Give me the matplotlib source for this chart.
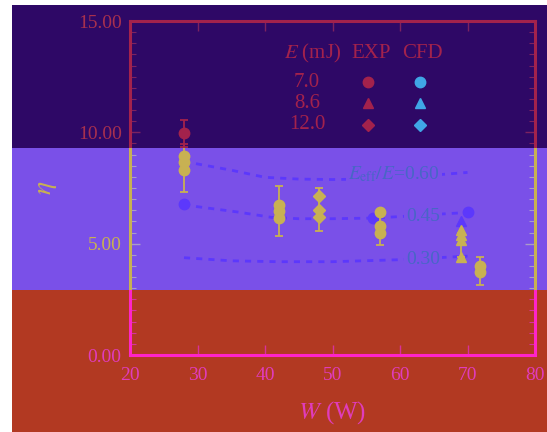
import matplotlib.pyplot as plt
from matplotlib.patches import Rectangle
from matplotlib.ticker import MultipleLocator, FormatStrFormatter

plt.rcParams['font.family'] = ['Liberation Serif', 'DejaVu Serif']
plt.rcParams['mathtext.fontset'] = 'stix'

# ---- values ----
E_labels = ['7.0', '8.6', '12.0']
E_markers = ['o', '^', 'D']

# EXP, E = 7.0 mJ (circles)
exp1_W = [28, 28, 28, 28, 42, 42, 42, 57, 57, 57, 71.8, 71.8]
exp1_eta = [9.95, 8.92, 8.65, 8.29, 6.75, 6.45, 6.15, 6.40, 5.80, 5.50, 4.00, 3.72]
exp1_lo = [0.60, 0, 0, 0.99, 0, 1.09, 0, 0, 0, 0.55, 0, 0.57]
exp1_hi = [0.60, 0, 0, 1.20, 0, 1.12, 0, 0, 0, 0.90, 0, 0.68]
# EXP, E = 8.6 mJ (triangles)
exp2_W = [69, 69, 69, 69]
exp2_eta = [5.63, 5.40, 5.18, 4.40]
exp2_lo = [0, 0, 0.78, 0]
exp2_hi = [0, 0, 0.30, 0]
# EXP, E = 12.0 mJ (diamonds)
exp3_W = [48, 48, 48]
exp3_eta = [7.16, 6.53, 6.20]
exp3_lo = [0, 0.94, 0]
exp3_hi = [0, 0.99, 0]

# CFD points
cfd1_W = [28, 56, 70]
cfd1_eta = [6.76, 6.15, 6.40]
cfd2_W = [69]
cfd2_eta = [6.00]

# CFD curves for E_eff/E
ratio_labels = [r'$E_{\rm eff}/E$=0.60', '0.45', '0.30']
c60_W = [28, 30, 35, 40, 45, 50, 55, 60, 65, 70]
c60_eta = [8.70, 8.58, 8.30, 7.98, 7.90, 7.88, 7.90, 7.98, 8.08, 8.20]
c45_W = [28, 30, 36, 41, 45, 50, 56, 62, 66, 70]
c45_eta = [6.76, 6.66, 6.42, 6.18, 6.12, 6.12, 6.15, 6.25, 6.33, 6.40]
c30_W = [28, 35, 42, 50, 60, 65, 70]
c30_eta = [4.37, 4.23, 4.19, 4.19, 4.28, 4.36, 4.44]
label_W = [65.9, 65.9, 65.9]
label_eta = [7.88, 6.00, 4.07]

# colour bands of the picture, pixel rows from the top (top, middle, bottom)
bands = [
    dict(p0=5, p1=148, bg='#2e0866', fg='#a3224c', lab='#a8304e', tick='#7d2260', cfd='#40a6e6', ann='#40a6e6'),
    dict(p0=148, p1=290, bg='#7a50e8', fg='#c8b152', lab='#c8b152', tick='#a99bc9', cfd='#5c38fc', ann='#4866c6'),
    dict(p0=290, p1=432, bg='#b23922', fg='#ff24c8', lab='#e03cbc', tick='#d8309c', cfd='#5c38fc', ann='#4866c6'),
]

W_PX, H_PX = 547, 432
fig = plt.figure(figsize=(W_PX / 100, H_PX / 100), dpi=100, facecolor='white')


def draw(ax, pal):
    ax.patch.set_visible(False)
    for W, eta in [(c60_W, c60_eta), (c45_W, c45_eta), (c30_W, c30_eta)]:
        ax.plot(W, eta, ls=(0, (2.2, 2.2)), lw=2.0, color=pal['cfd'], zorder=2)
    ax.plot(cfd1_W, cfd1_eta, 'o', ms=7.5, color=pal['cfd'], zorder=3)
    ax.plot(cfd2_W, cfd2_eta, '^', ms=7.5, color=pal['cfd'], zorder=3)

    sets = [(exp1_W, exp1_eta, exp1_lo, exp1_hi, 'o', 7.5),
            (exp2_W, exp2_eta, exp2_lo, exp2_hi, '^', 7.5),
            (exp3_W, exp3_eta, exp3_lo, exp3_hi, 'D', 6.3)]
    for W, eta, lo, hi, m, ms in sets:
        idx = [i for i in range(len(W)) if lo[i] or hi[i]]
        ax.errorbar([W[i] for i in idx], [eta[i] for i in idx],
                    yerr=[[lo[i] for i in idx], [hi[i] for i in idx]],
                    fmt='none', ecolor=pal['fg'], elinewidth=1.3, capsize=3,
                    capthick=1.3, zorder=4)
        ax.plot(W, eta, m, ms=ms, color=pal['fg'], ls='none', zorder=5)

    for txt, x, y in zip(ratio_labels, label_W, label_eta):
        ax.text(x, y, txt, ha='right', va='baseline', fontsize=14, color=pal['ann'],
                bbox=dict(fc=pal['bg'], ec='none', pad=1.5), zorder=3)

    # legend laid out as a small table
    hy = 0.904
    rows_y = [0.817, 0.754, 0.689]
    ax.text(0.452, hy, '$E$ (mJ)', transform=ax.transAxes, ha='center', va='center', fontsize=15, color=pal['fg'])
    ax.text(0.595, hy, 'EXP', transform=ax.transAxes, ha='center', va='center', fontsize=15, color=pal['fg'])
    ax.text(0.723, hy, 'CFD', transform=ax.transAxes, ha='center', va='center', fontsize=15, color=pal['fg'])
    for lab, m, y in zip(E_labels, E_markers, rows_y):
        ax.text(0.437, y, lab, transform=ax.transAxes, ha='center', va='center', fontsize=15, color=pal['fg'])
        ms = 6.0 if m == 'D' else 7.5
        ax.plot([0.588], [y], m, ms=ms, color=pal['fg'], transform=ax.transAxes)
        ax.plot([0.716], [y], m, ms=ms, color=pal['cfd'], transform=ax.transAxes)

    ax.set_xlim(20, 80)
    ax.set_ylim(0, 15)
    ax.xaxis.set_major_locator(MultipleLocator(10))
    ax.yaxis.set_major_locator(MultipleLocator(5))
    ax.yaxis.set_minor_locator(MultipleLocator(0.5))
    ax.yaxis.set_major_formatter(FormatStrFormatter('%.2f'))
    ax.tick_params(which='both', direction='in', top=True, right=True,
                   color=pal['tick'], labelcolor=pal['lab'], labelsize=14)
    ax.tick_params(which='major', length=7, width=1)
    ax.tick_params(which='minor', length=4, width=0.8)
    ax.tick_params(axis='y', pad=6)
    ax.tick_params(axis='x', pad=9)
    for sp in ax.spines.values():
        sp.set_color(pal['fg'])
        sp.set_linewidth(2.2)
    ax.set_xlabel('$W$ (W)', fontsize=18, color=pal['lab'], va='center')
    ax.set_ylabel(r'$\eta$', fontsize=20, color=pal['lab'], va='center')
    ax.xaxis.set_label_coords(0.5, -0.171)
    ax.yaxis.set_label_coords(-0.207, 0.5)


axes_rect = [130 / W_PX, 1 - 355 / H_PX, 405 / W_PX, 334 / H_PX]
axes = []
clips = []
for pal in bands:
    y0 = 1 - pal['p1'] / H_PX
    y1 = 1 - pal['p0'] / H_PX
    fig.add_artist(Rectangle((12 / W_PX, y0), 1 - 12 / W_PX, y1 - y0,
                             transform=fig.transFigure, fc=pal['bg'], ec='none', zorder=0))
    # clip region for this band (full width so tick labels are included)
    top = 1.0 if pal['p0'] == 5 else y1
    clips.append(Rectangle((0, y0), 1, top - y0, transform=fig.transFigure))
    ax = fig.add_axes(axes_rect)
    draw(ax, pal)
    axes.append(ax)

fig.canvas.draw()
for ax, clip in zip(axes, clips):
    for a in ax.findobj():
        if a is ax:
            continue
        a.set_clip_on(True)
        a.set_clip_path(clip)

fig.savefig('out.png', dpi=100, facecolor='white')
